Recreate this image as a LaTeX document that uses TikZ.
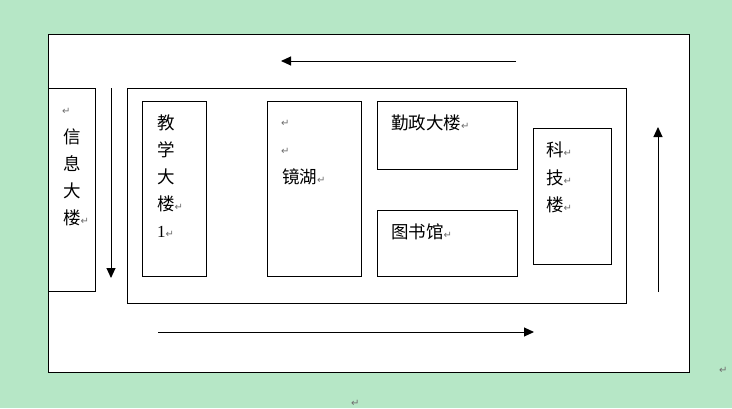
\documentclass[tikz,border=0pt]{standalone}
\usepackage{fontspec}
\newfontfamily\cjk{Noto Sans CJK SC}
\newfontfamily\dejavu{DejaVu Sans}
\newfontfamily\libserif{Liberation Serif}
\usetikzlibrary{arrows.meta}
\definecolor{bggreen}{HTML}{B6E7C6}
\definecolor{retgray}{HTML}{6F6F6F}
\newcommand{\rt}{{\dejavu\fontsize{10}{10}\selectfont\color{retgray}↵}}
\tikzset{
  box/.style={draw=black, line width=1pt, fill=white, inner sep=0pt, outer sep=0pt, anchor=north west},
  lbl/.style={inner sep=0pt, anchor=west, font=\cjk\fontsize{17.5}{17.5}\selectfont, text=black},
  flow/.style={draw=black, line width=1pt, -{Triangle[length=10pt,width=9pt]}}
}
\begin{document}
\begin{tikzpicture}[x=1pt,y=-1pt]
\fill[bggreen] (0,0) rectangle (732,408);
\useasboundingbox (0,0) rectangle (732,408);
% outer frame
\node[box, minimum width=641pt, minimum height=338pt] (outer) at (48,34) {};
% inner frame
\node[box, minimum width=499pt, minimum height=215pt] (inner) at (127,88) {};
% buildings
\node[box, minimum width=47pt, minimum height=203pt] (xinxi) at (48,88) {};
\node[box, minimum width=64pt, minimum height=175pt] (jiaoxue) at (142,101) {};
\node[box, minimum width=94pt, minimum height=175pt] (jinghu) at (267,101) {};
\node[box, minimum width=140pt, minimum height=68pt] (qinzheng) at (377,101) {};
\node[box, minimum width=140pt, minimum height=66pt] (tushu) at (377,210) {};
\node[box, minimum width=78pt, minimum height=136pt] (keji) at (533,128) {};
% arrows
\coordinate (t1) at (516,61); \coordinate (t2) at (281,61);
\coordinate (d1) at (111,88); \coordinate (d2) at (111,278);
\coordinate (b1) at (158,332); \coordinate (b2) at (534,332);
\coordinate (u1) at (658,292); \coordinate (u2) at (658,127);
\draw[flow] (t1) -- (t2);
\draw[flow] (d1) -- (d2);
\draw[flow] (b1) -- (b2);
\draw[flow] (u1) -- (u2);
% labels
\node[lbl] (x0) at (62,111) {\rt};
\node[lbl] (x1) at (63,137) {信};
\node[lbl] (x2) at (63,164) {息};
\node[lbl] (x3) at (63,191) {大};
\node[lbl] (x4) at (63,218) {楼\rt};
\node[lbl] (j1) at (157,123) {教};
\node[lbl] (j2) at (157,150) {学};
\node[lbl] (j3) at (157,177) {大};
\node[lbl] (j4) at (157,204) {楼\rt};
\node[lbl] (j5) at (157,232) {{\libserif\fontsize{17}{17}\selectfont 1}\rt};
\node[lbl] (h1) at (281,123) {\rt};
\node[lbl] (h2) at (281,151) {\rt};
\node[lbl] (h3) at (282,177) {镜湖\rt};
\node[lbl] (q1) at (391,123) {勤政大楼\rt};
\node[lbl] (s1) at (391,232) {图书馆\rt};
\node[lbl] (k1) at (546,150) {科\rt};
\node[lbl] (k2) at (546,178) {技\rt};
\node[lbl] (k3) at (546,205) {楼\rt};
\node[lbl] (r1) at (719,370) {\rt};
\node[lbl] (r2) at (351,403) {\rt};
\end{tikzpicture}
\end{document}
